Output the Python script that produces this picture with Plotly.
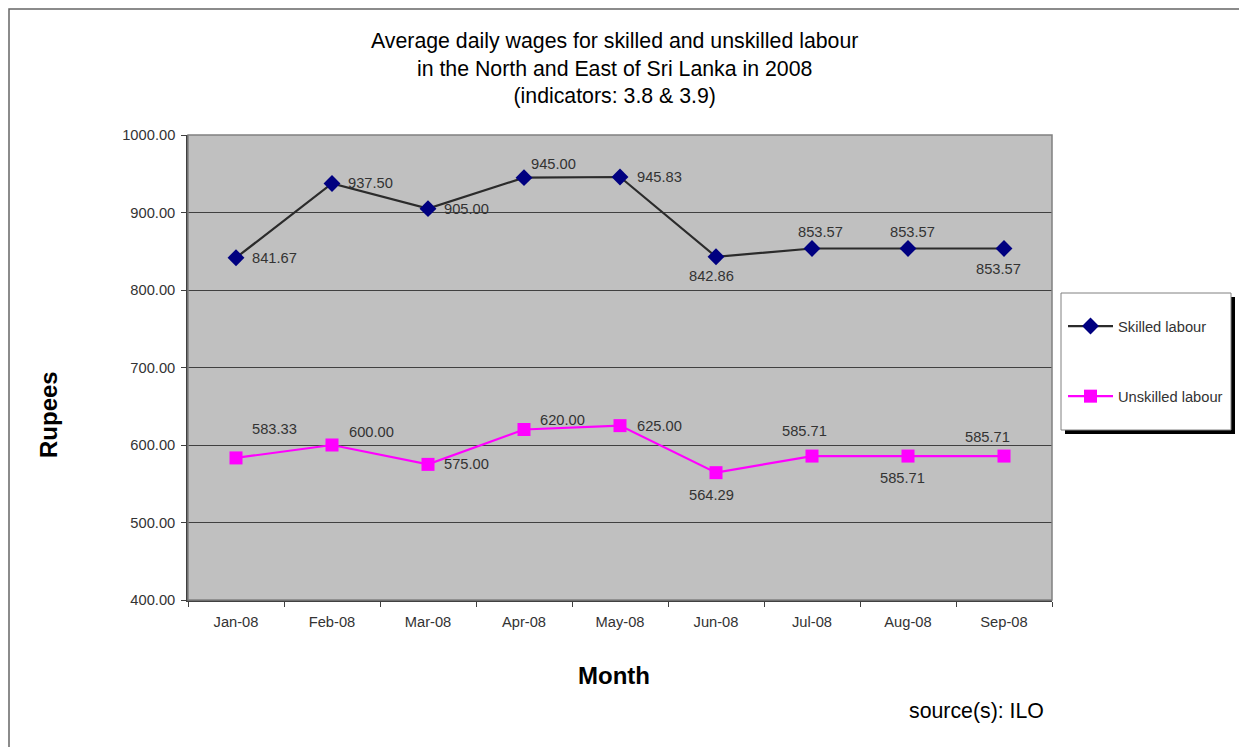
import plotly.graph_objects as go

months = ["Jan-08", "Feb-08", "Mar-08", "Apr-08", "May-08", "Jun-08", "Jul-08", "Aug-08", "Sep-08"]
skilled = [841.67, 937.50, 905.00, 945.00, 945.83, 842.86, 853.57, 853.57, 853.57]
unskilled = [583.33, 600.00, 575.00, 620.00, 625.00, 564.29, 585.71, 585.71, 585.71]
y_ticks = [400, 500, 600, 700, 800, 900, 1000]

# label offsets (pixels): style only
skilled_off = [(38, 0), (38, 0), (38, 0), (29, 14), (39, 0), (-5, -19), (8, 16), (4, 16), (-6, -21)]
unskilled_off = [(38, 29), (39, 13), (38, 0), (38, 10), (39, 0), (-5, -22), (-8, 25), (-6, -22), (-17, 19)]

FONT = "Liberation Sans, Arial, sans-serif"
W, H = 1247, 747
OFF = 8  # page body margin
L, R, T, B = 188 - OFF, 1052 - OFF, 135 - OFF, 600 - OFF
pw, ph = R - L, B - T


def px(x):  # screenshot x -> paper
    return (x - OFF - L) / pw


def py(y):  # screenshot y -> paper
    return (B - (y - OFF)) / ph


fig = go.Figure()
fig.add_trace(go.Scatter(
    x=months, y=skilled, name="Skilled labour", mode="lines+markers",
    line=dict(color="#2b2b2b", width=2.2),
    marker=dict(symbol="diamond", size=13, color="#000080"),
    legendgroup="a",
))
fig.add_trace(go.Scatter(
    x=months, y=unskilled, name="Unskilled labour", mode="lines+markers",
    line=dict(color="#FF00FF", width=2.2),
    marker=dict(symbol="square", size=13, color="#FF00FF"),
    legendgroup="b",
))

annotations = []
for vals, offs in ((skilled, skilled_off), (unskilled, unskilled_off)):
    for m, v, (dx, dy) in zip(months, vals, offs):
        annotations.append(dict(
            x=m, y=v, xref="x", yref="y", text=f"{v:.2f}", showarrow=False,
            xanchor="center", yanchor="middle",
            xshift=dx, yshift=dy, font=dict(family=FONT, size=14.7, color="#333333"),
        ))

annotations += [
    dict(x=px(614), y=py(68), xref="paper", yref="paper", showarrow=False,
         xanchor="center", yanchor="middle",
         text="Average daily wages for skilled and unskilled labour<br>in the North and East of Sri Lanka in 2008<br>(indicators: 3.8 & 3.9)",
         font=dict(family=FONT, size=21.3, color="#000000"), align="center"),
    dict(x=px(48), y=py(415), xref="paper", yref="paper", showarrow=False, textangle=-90,
         xanchor="center", yanchor="middle",
         text="<b>Rupees</b>", font=dict(family=FONT, size=24, color="#000000")),
    dict(x=px(614), y=py(675), xref="paper", yref="paper", showarrow=False,
         xanchor="center", yanchor="middle",
         text="<b>Month</b>", font=dict(family=FONT, size=24, color="#000000")),
    dict(x=px(976), y=py(711), xref="paper", yref="paper", showarrow=False,
         xanchor="center", yanchor="middle",
         text="source(s): ILO", font=dict(family=FONT, size=21.3, color="#000000")),
]

shapes = [
    # outer chart border (top-left corner of the figure)
    dict(type="rect", xref="paper", yref="paper",
         x0=(1 - L) / pw, y0=(B - 1) / ph, x1=(W + 40 - L) / pw, y1=(B - H - 40) / ph,
         line=dict(color="#666666", width=1.5), layer="below"),
    # plot area border
    dict(type="rect", xref="paper", yref="paper", x0=0, y0=0, x1=1, y1=1,
         line=dict(color="#808080", width=1.5), layer="above"),
    # legend shadow
    dict(type="rect", xref="paper", yref="paper", x0=px(1065), y0=py(297), x1=px(1235), y1=py(434),
         fillcolor="#000000", line=dict(width=0), layer="above"),
    # legend box
    dict(type="rect", xref="paper", yref="paper", x0=px(1061), y0=py(293), x1=px(1231), y1=py(430),
         fillcolor="#FFFFFF", line=dict(color="#808080", width=1), layer="above"),
]

fig.update_layout(
    width=W, height=H,
    margin=dict(l=L, r=W - R, t=T, b=H - B, pad=0),
    paper_bgcolor="#FFFFFF", plot_bgcolor="#C0C0C0",
    font=dict(family=FONT, size=14.7, color="#333333"),
    showlegend=True,
    legend=dict(x=px(1063), y=py(310), xanchor="left", yanchor="top",
                bgcolor="rgba(0,0,0,0)", borderwidth=0, tracegroupgap=48,
                font=dict(family=FONT, size=14.7, color="#333333"), itemwidth=45),
    annotations=annotations, shapes=shapes,
    xaxis=dict(type="category", tickson="boundaries", ticks="outside", ticklen=5,
               tickcolor="#404040", showline=True, linecolor="#404040", linewidth=1.5,
               showgrid=False, tickfont=dict(family=FONT, size=14.7, color="#333333"),
               range=[-0.5, 8.5], ticklabelstandoff=8),
    yaxis=dict(range=[400, 1000], tickvals=y_ticks, ticktext=[f"{v:.2f}" for v in y_ticks],
               ticks="outside", ticklen=5, tickcolor="#404040", showline=True,
               linecolor="#404040", linewidth=1.5, showgrid=True, gridcolor="#404040",
               gridwidth=1, zeroline=False, ticklabelstandoff=3,
               tickfont=dict(family=FONT, size=14.7, color="#333333")),
)

fig.write_html("out.html")
